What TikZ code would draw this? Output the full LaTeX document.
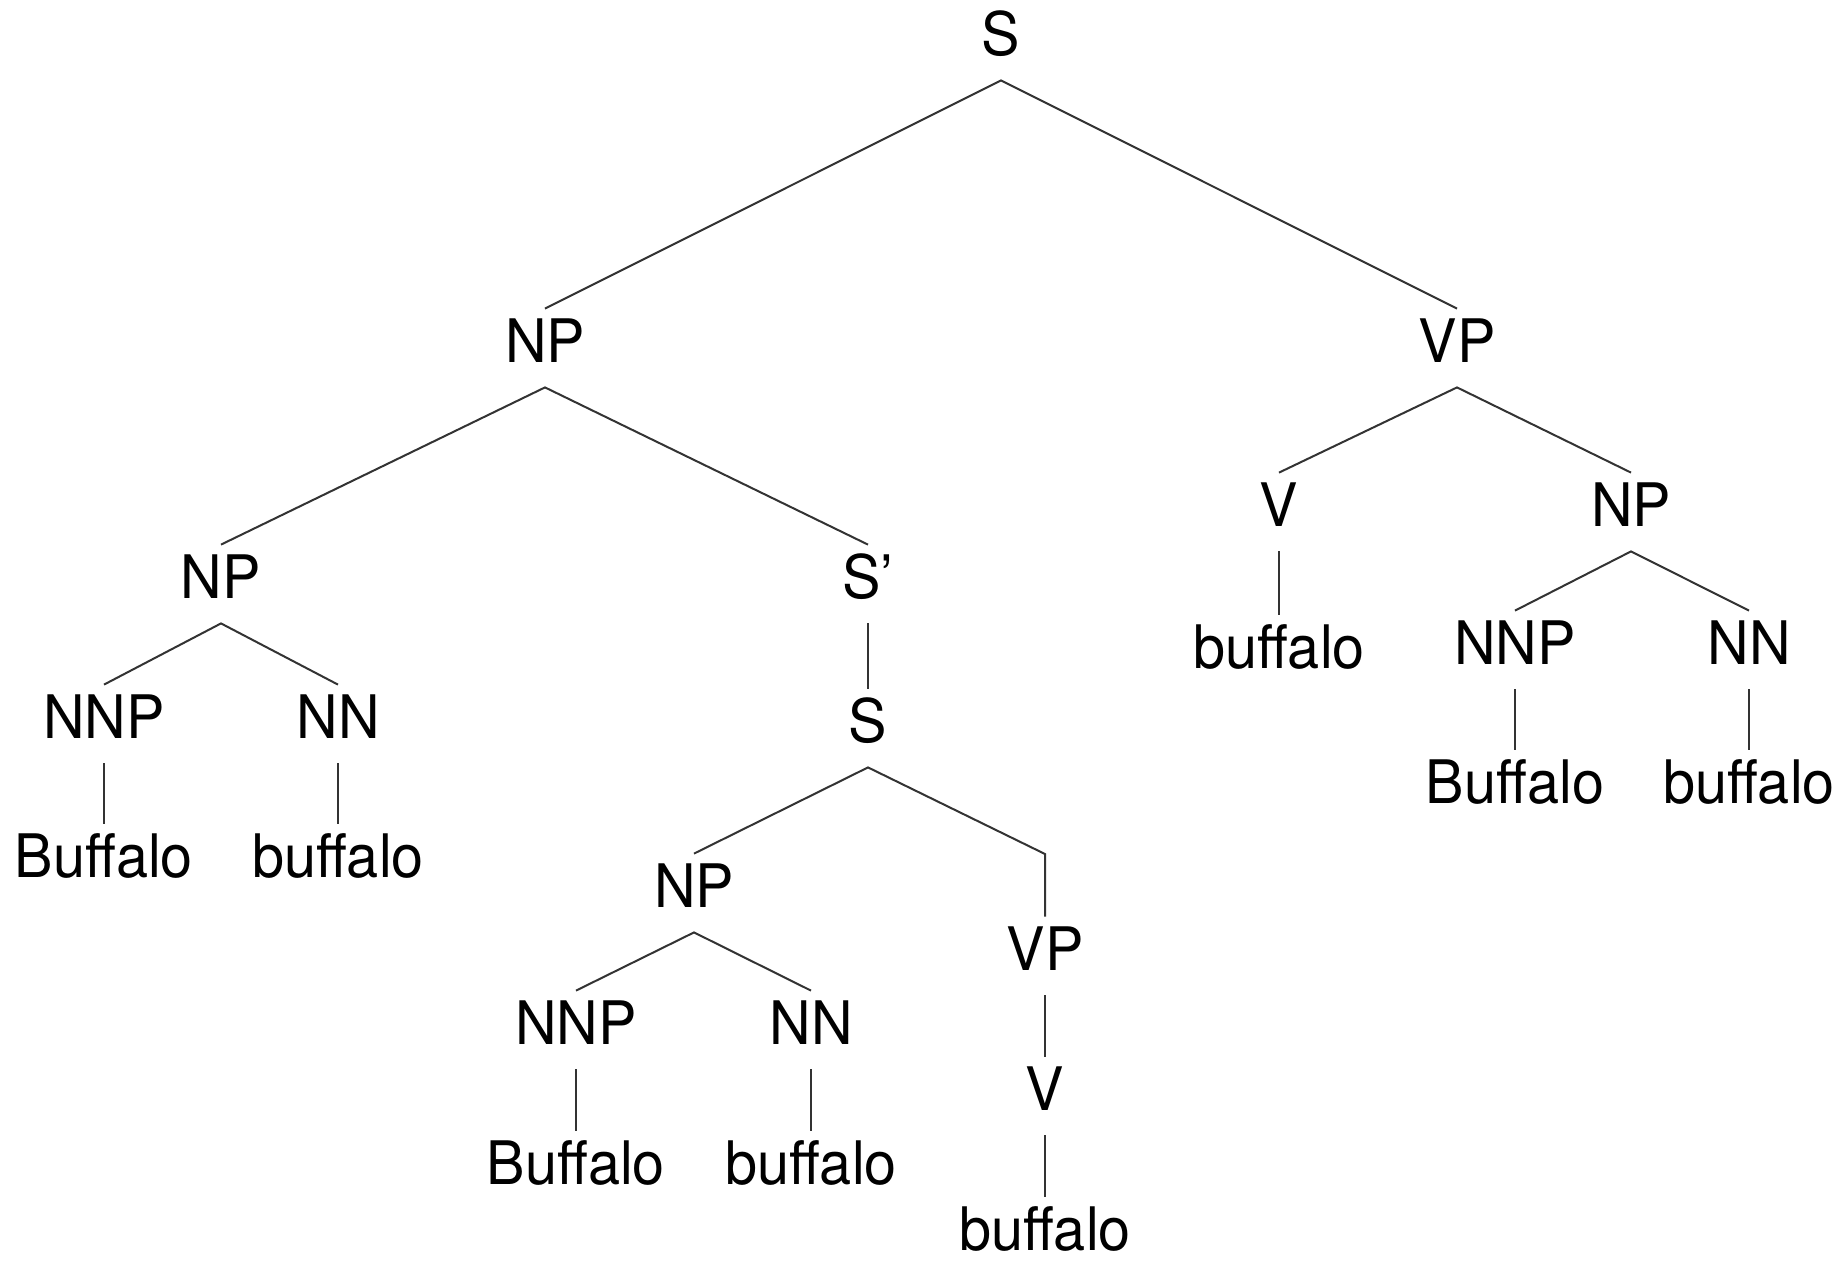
\documentclass[tikz,border=0pt]{standalone}
\usepackage{fontspec}
\newfontfamily\treefont[FakeStretch=0.96]{TeX Gyre Heros}
\begin{document}
\begin{tikzpicture}[x=0.5pt,y=-0.5pt,
  lbl/.style={anchor=base, inner sep=0pt, text height=26.5pt, text depth=12.5pt,
    font={\treefont\fontsize{30pt}{36pt}\selectfont}},
  edge/.style={draw=black!80, line width=1pt}]
\useasboundingbox (0,0) rectangle (1844,1260);
% nodes
\node[lbl] (s0)   at (1001,55)  {S};
\node[lbl] (np1)  at (545,362)  {NP};
\node[lbl] (vp1)  at (1457,362) {VP};
\node[lbl] (np2)  at (221,598)  {NP};
\node[lbl] (sp)   at (868,598)  {S’};
\node[lbl] (v1)   at (1279,526) {V};
\node[lbl] (np3)  at (1631,526) {NP};
\node[lbl] (w1)   at (1279,668) {buffalo};
\node[lbl] (nnp3) at (1515,664) {NNP};
\node[lbl] (nn3)  at (1749,664) {NN};
\node[lbl] (w2)   at (1515,803) {Buffalo};
\node[lbl] (w3)   at (1749,803) {buffalo};
\node[lbl] (nnp2) at (104,738)  {NNP};
\node[lbl] (nn2)  at (338,738)  {NN};
\node[lbl] (w4)   at (104,877)  {Buffalo};
\node[lbl] (w5)   at (338,877)  {buffalo};
\node[lbl] (s1)   at (868,742)  {S};
\node[lbl] (np4)  at (694,907)  {NP};
\node[lbl] (vp2)  at (1045,970) {VP};
\coordinate (bend) at (1045,854);
\node[lbl] (nnp4) at (576,1044) {NNP};
\node[lbl] (nn4)  at (811,1044) {NN};
\node[lbl] (w6)   at (576,1184) {Buffalo};
\node[lbl] (w7)   at (811,1184) {buffalo};
\node[lbl] (v2)   at (1045,1110) {V};
\node[lbl] (w8)   at (1045,1250) {buffalo};
% edges
\draw[edge] (np1.north) -- (s0.south) -- (vp1.north);
\draw[edge] (np2.north) -- (np1.south) -- (sp.north);
\draw[edge] (v1.north) -- (vp1.south) -- (np3.north);
\draw[edge] (v1.south) -- (w1.north);
\draw[edge] (nnp3.north) -- (np3.south) -- (nn3.north);
\draw[edge] (nnp3.south) -- (w2.north);
\draw[edge] (nn3.south) -- (w3.north);
\draw[edge] (nnp2.north) -- (np2.south) -- (nn2.north);
\draw[edge] (nnp2.south) -- (w4.north);
\draw[edge] (nn2.south) -- (w5.north);
\draw[edge] (sp.south) -- (s1.north);
\draw[edge] (np4.north) -- (s1.south) -- (bend) -- (vp2.north);
\draw[edge] (nnp4.north) -- (np4.south) -- (nn4.north);
\draw[edge] (nnp4.south) -- (w6.north);
\draw[edge] (nn4.south) -- (w7.north);
\draw[edge] (vp2.south) -- (v2.north);
\draw[edge] (v2.south) -- (w8.north);
\end{tikzpicture}
\end{document}
